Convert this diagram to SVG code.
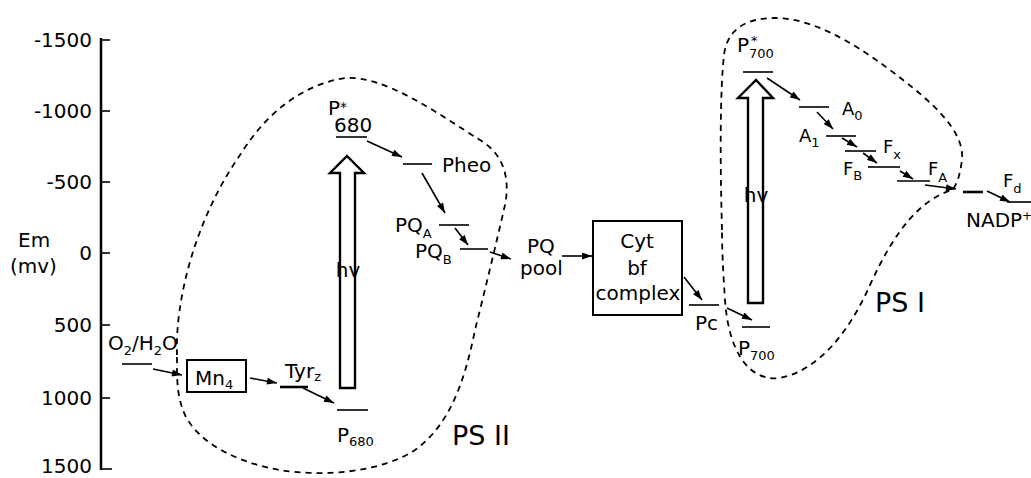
<svg xmlns="http://www.w3.org/2000/svg" width="1031" height="478" viewBox="0 0 1031 478">
<style>
text{font-family:"DejaVu Sans","Liberation Sans",sans-serif;font-size:20px;fill:#000}
.ax{font-size:20px;text-anchor:end}
.s{font-size:18px}
.sub{font-size:13px}
.ps{font-size:27px}
.lvl{stroke:#000;stroke-width:1.6;fill:none}
.thk{stroke-width:2.6}
.con line{stroke:#000;stroke-width:1.6;marker-end:url(#ah)}
.dash{fill:none;stroke:#000;stroke-width:1.8;stroke-dasharray:6 5}
.big{fill:#fff;stroke:#000;stroke-width:2.4;stroke-linejoin:miter}
.box{fill:#fff;stroke:#000;stroke-width:2}
</style>
<defs>
<marker id="ah" viewBox="0 0 10 7" refX="10" refY="3.5" markerWidth="11" markerHeight="7" markerUnits="userSpaceOnUse" orient="auto">
<path d="M0,0 L10,3.5 L0,7 Z" fill="#000"/>
</marker>
</defs>
<rect width="1031" height="478" fill="#fff"/>

<g id="outlines">
<path id="ps2-outline" class="dash" d="M177,355 C175,300 195,220 240,155 C265,115 300,85 345,78 C385,75 440,115 480,140 C505,155 510,180 505,205 C497,240 485,290 475,330 C465,380 450,425 415,450 C385,470 330,478 280,470 C240,463 200,445 185,415 C176,395 177,375 177,355 Z"/>
<path id="ps1-outline" class="dash" d="M722,230 C720,160 720,90 724,55 C727,30 745,18 775,18 C810,18 850,40 890,70 C930,100 965,130 962,160 C960,175 957,185 952,190 C920,200 895,230 870,285 C850,330 820,370 780,378 C745,382 728,345 725,300 C723,270 722,250 722,230 Z"/>
</g>

<g id="axis">
<line x1="101" y1="38" x2="101" y2="470" stroke="#000" stroke-width="2.5"/>
<g stroke="#000" stroke-width="1.6">
<line x1="101" y1="40" x2="110" y2="40"/>
<line x1="101" y1="111" x2="110" y2="111"/>
<line x1="101" y1="182" x2="110" y2="182"/>
<line x1="101" y1="253" x2="110" y2="253"/>
<line x1="101" y1="325" x2="110" y2="325"/>
<line x1="101" y1="398" x2="110" y2="398"/>
<line x1="101" y1="469" x2="112" y2="469"/>
</g>
<text class="ax" x="92" y="47">-1500</text>
<text class="ax" x="92" y="118">-1000</text>
<text class="ax" x="92" y="189">-500</text>
<text class="ax" x="92" y="260">0</text>
<text class="ax" x="92" y="332">500</text>
<text class="ax" x="92" y="405">1000</text>
<text class="ax" x="92" y="473" font-size="19">1500</text>
<text x="18" y="247" font-size="19">Em</text>
<text x="10" y="273" font-size="19">(mv)</text>
</g>

<g id="o2h2o">
<line class="lvl" x1="122" y1="364" x2="152" y2="364" stroke-width="3"/>
<text x="108" y="350">O<tspan class="sub" dy="5">2</tspan><tspan dy="-5">/H</tspan><tspan class="sub" dy="5">2</tspan><tspan dy="-5">O</tspan></text>
</g>

<g id="mn4">
<rect class="box" x="187" y="360" width="59" height="32"/>
<text x="195" y="385">Mn<tspan class="sub" dy="4">4</tspan></text>
</g>

<g id="tyrz">
<line class="lvl thk" x1="280" y1="387" x2="308" y2="387"/>
<text x="285" y="378">Tyr<tspan class="sub" dy="3">z</tspan></text>
</g>

<g id="p680">
<line class="lvl" x1="337" y1="410" x2="368" y2="410" stroke-width="2"/>
<text x="337" y="442">P<tspan class="sub" dy="4">680</tspan></text>
</g>

<g id="hv-ps2">
<polygon class="big" points="347,156 364,173 355,173 355,388 340,388 340,173 330,173"/>
<text x="348" y="277" text-anchor="middle">hv</text>
</g>

<g id="p680star">
<line class="lvl" x1="336" y1="137" x2="367" y2="137"/>
<text x="328" y="115">P<tspan font-size="14" dy="-3">*</tspan></text>
<text x="334" y="132">680</text>
</g>

<g id="pheo">
<line class="lvl" x1="403" y1="164" x2="432" y2="164"/>
<text x="442" y="172">Pheo</text>
</g>

<g id="pqa">
<line class="lvl" x1="439" y1="225" x2="469" y2="225"/>
<text x="395" y="232">PQ<tspan class="sub" dy="6">A</tspan></text>
</g>

<g id="pqb">
<line class="lvl" x1="460" y1="249" x2="488" y2="249"/>
<text x="415" y="258">PQ<tspan class="sub" dy="6">B</tspan></text>
</g>

<g id="pqpool">
<text x="527" y="253">PQ</text>
<text x="520" y="275">pool</text>
</g>

<g id="cytbf">
<rect class="box" x="593" y="221" width="89" height="94"/>
<text x="637" y="248" text-anchor="middle">Cyt</text>
<text x="637" y="275" text-anchor="middle">bf</text>
<text x="638" y="300" text-anchor="middle">complex</text>
</g>

<g id="pc">
<line class="lvl" x1="689" y1="305" x2="719" y2="305"/>
<text x="695" y="330">Pc</text>
</g>

<g id="p700">
<line class="lvl" x1="742" y1="327" x2="770" y2="327" stroke-width="2"/>
<text x="738" y="355">P<tspan class="sub" dy="5">700</tspan></text>
</g>

<g id="hv-ps1">
<polygon class="big" points="756,80 773,98 763,98 763,303 748,303 748,98 738,98"/>
<text x="756" y="202" text-anchor="middle">hv</text>
</g>

<g id="p700star">
<line class="lvl" x1="743" y1="72" x2="773" y2="72"/>
<text x="737" y="52">P<tspan class="sub" dy="6">700</tspan><tspan font-size="13" x="751" dy="-13">*</tspan></text>
</g>

<g id="a0">
<line class="lvl" x1="799" y1="107" x2="829" y2="107" stroke-width="2"/>
<text class="s" x="842" y="115">A<tspan class="sub" dy="5">0</tspan></text>
</g>

<g id="a1">
<line class="lvl" x1="826" y1="136" x2="856" y2="136"/>
<text class="s" x="799" y="142">A<tspan class="sub" dy="5">1</tspan></text>
</g>

<g id="fx">
<line class="lvl" x1="845" y1="151" x2="876" y2="151" stroke-width="2"/>
<text class="s" x="883" y="153">F<tspan class="sub" dy="6">x</tspan></text>
</g>

<g id="fb">
<line class="lvl" x1="868" y1="167" x2="900" y2="167"/>
<text class="s" x="843" y="175">F<tspan class="sub" dy="5">B</tspan></text>
</g>

<g id="fa">
<line class="lvl" x1="897" y1="181" x2="930" y2="181"/>
<text class="s" x="928" y="175">F<tspan class="sub" dy="7">A</tspan></text>
</g>

<g id="fd">
<line class="lvl thk" x1="963" y1="192" x2="983" y2="192"/>
<text class="s" x="1003" y="187">F<tspan class="sub" dy="6">d</tspan></text>
</g>

<g id="nadp">
<line class="lvl" x1="1007" y1="202" x2="1031" y2="202" stroke-width="2"/>
<text x="966" y="227" font-size="18">NADP<tspan font-size="12" dy="-7">+</tspan></text>
</g>

<g id="ps-labels">
<text class="ps" x="452" y="445">PS II</text>
<text class="ps" x="875" y="312">PS I</text>
</g>

<g id="connectors" class="con">
<line x1="153" y1="369" x2="182" y2="375"/>
<line x1="250" y1="378" x2="277" y2="383"/>
<line x1="303" y1="388" x2="334" y2="403"/>
<line x1="367" y1="141" x2="402" y2="157"/>
<line x1="422" y1="173" x2="445" y2="213"/>
<line x1="455" y1="228" x2="468" y2="245"/>
<line x1="490" y1="252" x2="511" y2="259"/>
<line x1="562" y1="256" x2="592" y2="256"/>
<line x1="684" y1="277" x2="702" y2="300"/>
<line x1="727" y1="308" x2="752" y2="320"/>
<line x1="767" y1="78" x2="800" y2="100"/>
<line x1="817" y1="112" x2="833" y2="129"/>
<line x1="842" y1="138" x2="857" y2="147"/>
<line x1="863" y1="153" x2="877" y2="163"/>
<line x1="900" y1="171" x2="913" y2="179"/>
<line x1="925" y1="185" x2="956" y2="189"/>
<line x1="987" y1="191" x2="1010" y2="202"/>
</g>
</svg>
